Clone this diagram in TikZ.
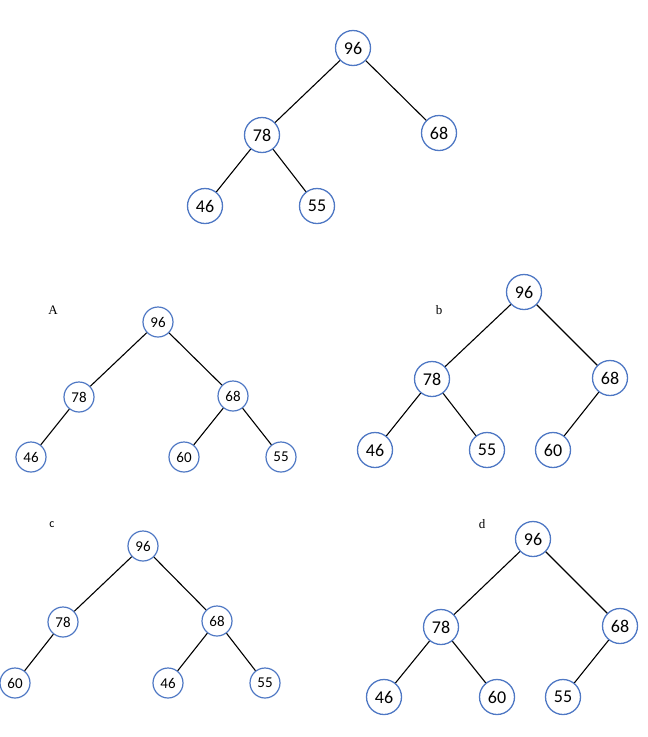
\documentclass[tikz,border=0pt]{standalone}
\usepackage{fontspec}
\setmainfont{Liberation Serif}
\newfontfamily\calib{Carlito}
\definecolor{ringblue}{HTML}{4F78C4}
\begin{document}
\begin{tikzpicture}[x=1pt,y=-1pt,
  big/.style={circle,draw=ringblue,line width=1.3pt,fill=white,minimum size=35pt,inner sep=0pt,font=\calib\fontsize{18}{18}\selectfont},
  small/.style={circle,draw=ringblue,line width=1.2pt,fill=white,minimum size=30pt,inner sep=0pt,font=\calib\fontsize{15}{15}\selectfont},
  edge/.style={draw=black,line width=1.1pt},
  lab/.style={inner sep=0pt,font=\fontsize{13}{13}\selectfont}]
\useasboundingbox (0,0) rectangle (648,737);
% top tree
\node[big] (t96) at (353,48) {96};
\node[big] (t78) at (262,135) {78};
\node[big] (t68) at (439,133) {68};
\node[big] (t46) at (205,206) {46};
\node[big] (t55) at (317,206) {55};
\draw[edge] (t96) -- (t78) (t96) -- (t68) (t78) -- (t46) (t78) -- (t55);
% A
\node[lab] (la) at (53,310) {A};
\node[small] (a96) at (158,322) {96};
\node[small] (a78) at (79,397) {78};
\node[small] (a68) at (233,396) {68};
\node[small] (a46) at (31,457) {46};
\node[small] (a60) at (184,457) {60};
\node[small] (a55) at (281,457) {55};
\draw[edge] (a96) -- (a78) (a96) -- (a68) (a78) -- (a46) (a68) -- (a60) (a68) -- (a55);
% b
\node[lab] (lb) at (439,310) {b};
\node[big] (b96) at (524,292) {96};
\node[big] (b78) at (432,379) {78};
\node[big] (b68) at (610,378) {68};
\node[big] (b46) at (375,450) {46};
\node[big] (b55) at (487,450) {55};
\node[big] (b60) at (553,450) {60};
\draw[edge] (b96) -- (b78) (b96) -- (b68) (b78) -- (b46) (b78) -- (b55) (b68) -- (b60);
% c
\node[lab,font=\calib\fontsize{12}{12}\selectfont] (lc) at (52,525) {c};
\node[small] (c96) at (143,546) {96};
\node[small] (c78) at (63,622) {78};
\node[small] (c68) at (217,621) {68};
\node[small] (c60) at (15,683) {60};
\node[small] (c46) at (168,683) {46};
\node[small] (c55) at (265,683) {55};
\draw[edge] (c96) -- (c78) (c96) -- (c68) (c78) -- (c60) (c68) -- (c46) (c68) -- (c55);
% d
\node[lab] (ld) at (482,524) {d};
\node[big] (d96) at (533,539) {96};
\node[big] (d78) at (441,627) {78};
\node[big] (d68) at (620,626) {68};
\node[big] (d46) at (384,697) {46};
\node[big] (d60) at (497,697) {60};
\node[big] (d55) at (563,697) {55};
\draw[edge] (d96) -- (d78) (d96) -- (d68) (d78) -- (d46) (d78) -- (d60) (d68) -- (d55);
\end{tikzpicture}
\end{document}
